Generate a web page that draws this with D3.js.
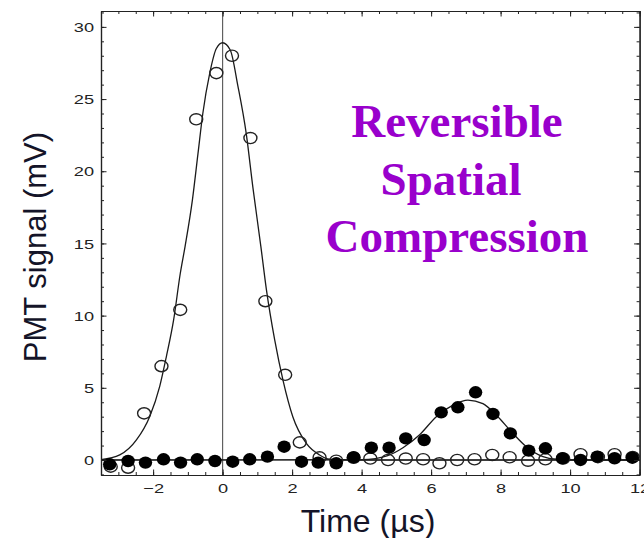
<!DOCTYPE html>
<html><head><meta charset="utf-8">
<script src="https://cdn.jsdelivr.net/npm/d3@7"></script>
<style>body{margin:0;background:#fff}svg{display:block}</style>
</head><body>
<svg id="c" width="644" height="538"></svg>
<script>
// ---- data ----
const openX = [-3.22,-2.72,-2.26,-1.76,-1.22,-0.76,-0.18,0.27,0.80,1.23,1.80,2.22,2.79,3.27,3.77,4.25,4.76,5.27,5.77,6.24,6.75,7.25,7.76,8.26,8.79,9.29,9.80,10.30,10.80,11.28,11.80];
const openY = [-0.46,-0.53,3.23,6.5,10.4,23.6,26.8,28.0,22.3,11.0,5.9,1.22,0.18,-0.05,0.15,0.1,0.0,0.1,0.05,-0.23,0.0,0.05,0.35,0.19,-0.05,0.05,0.1,0.4,0.2,0.4,0.2];
const filledX = [-3.25,-2.72,-2.22,-1.70,-1.21,-0.73,-0.22,0.29,0.78,1.29,1.77,2.27,2.75,3.27,3.77,4.28,4.79,5.27,5.80,6.29,6.77,7.28,7.78,8.28,8.81,9.29,9.78,10.30,10.78,11.28,11.79];
const filledY = [-0.3,-0.07,-0.18,0.05,-0.18,0.05,-0.07,-0.12,0.05,0.23,0.92,-0.12,-0.18,-0.23,0.19,0.85,0.85,1.5,1.38,3.3,3.65,4.69,3.19,1.84,0.65,0.81,0.12,0.0,0.23,0.12,0.16];
const fitOpenX = [-3.5,-2.96,-2.48,-2.10,-1.81,-1.62,-1.41,-1.22,-1.08,-0.87,-0.71,-0.57,-0.37,-0.18,0.0,0.22,0.44,0.68,0.87,1.10,1.26,1.50,1.74,2.02,2.41,2.79,3.08,3.5,12];
const fitOpenY = [0.02,0.35,1.39,3.0,5.1,7.15,9.7,12.9,14.8,18.0,21.2,24.0,26.8,28.5,28.9,28.4,25.9,22.6,18.9,14.8,11.8,8.3,5.5,3.0,1.15,0.35,0.05,0.0,0.0];
const fitFilledX = [-3.5,4.0,4.4,4.75,5.19,5.67,6.15,6.63,7.06,7.49,7.88,8.31,8.74,9.22,9.6,10.2,12];
const fitFilledY = [0.0,0.02,0.1,0.3,0.85,1.75,3.0,3.8,4.15,3.9,3.1,1.96,0.92,0.23,0.05,0.0,0.0];
const xMajorTicks = [-2,0,2,4,6,8,10,12];
const yMajorTicks = [0,5,10,15,20,25,30];
const titleLines = ["Reversible","Spatial\u00a0","Compression"];
const xLabel = "Time (\u00b5s)";
const yLabel = "PMT signal (mV)";

// ---- layout ----
const L=101, R=639.6, T=11, B=475;
const svg = d3.select("#c");
const x = d3.scaleLinear().domain([-3.5,12]).range([L,R]);
const y = d3.scaleLinear().domain([-1.04,31.1]).range([B,T]);
const xMinor = d3.range(-3.5,12.001,0.5);
const yMinor = d3.range(-1,31.001,1);

// zero axes
svg.append("line").attr("x1",x(0)).attr("x2",x(0)).attr("y1",T).attr("y2",B)
  .attr("stroke","#555").attr("stroke-width",1.1);
svg.append("line").attr("x1",L).attr("x2",R).attr("y1",y(0)).attr("y2",y(0))
  .attr("stroke","#555").attr("stroke-width",1.1);

// fit curves
const line = d3.line().x(d=>x(d[0])).y(d=>y(d[1])).curve(d3.curveMonotoneX);
svg.append("path").datum(fitOpenX.map((v,i)=>[v,fitOpenY[i]])).attr("d",line)
  .attr("fill","none").attr("stroke","#1a1a1a").attr("stroke-width",1.3);
svg.append("path").datum(fitFilledX.map((v,i)=>[v,fitFilledY[i]])).attr("d",line)
  .attr("fill","none").attr("stroke","#1a1a1a").attr("stroke-width",1.3);

// points
svg.append("g").selectAll("ellipse").data(openX.map((v,i)=>[v,openY[i]])).join("ellipse")
  .attr("cx",d=>x(d[0])).attr("cy",d=>y(d[1])).attr("rx",6.5).attr("ry",5.6)
  .attr("fill","none").attr("stroke","#222").attr("stroke-width",1.4);
svg.append("g").selectAll("ellipse").data(filledX.map((v,i)=>[v,filledY[i]])).join("ellipse")
  .attr("cx",d=>x(d[0])).attr("cy",d=>y(d[1])).attr("rx",6.7).attr("ry",6.2)
  .attr("fill","#000");

// frame axes
function styleAxis(g){
  g.select(".domain").attr("stroke","#222").attr("stroke-width",1.2);
  g.selectAll(".tick line").attr("stroke","#222").attr("stroke-width",1);
}
const gBottom = svg.append("g").attr("transform",`translate(0,${B})`)
  .call(d3.axisBottom(x).tickValues(xMinor).tickSize(-3).tickFormat("").tickSizeOuter(0));
styleAxis(gBottom);
const gBottomMaj = svg.append("g").attr("transform",`translate(0,${B})`)
  .call(d3.axisBottom(x).tickValues(xMajorTicks).tickSize(-5.5).tickPadding(8).tickSizeOuter(0)
    .tickFormat(d=>d<0?"\u2212"+Math.abs(d):d));
styleAxis(gBottomMaj);
const gTop = svg.append("g").attr("transform",`translate(0,${T})`)
  .call(d3.axisTop(x).tickValues(xMinor).tickSize(-3).tickFormat("").tickSizeOuter(0));
styleAxis(gTop);
svg.append("g").attr("transform",`translate(0,${T})`)
  .call(d3.axisTop(x).tickValues(xMajorTicks).tickSize(-5.5).tickFormat("").tickSizeOuter(0)).call(styleAxis);
const gLeft = svg.append("g").attr("transform",`translate(${L},0)`)
  .call(d3.axisLeft(y).tickValues(yMinor).tickSize(-3).tickFormat("").tickSizeOuter(0));
styleAxis(gLeft);
const gLeftMaj = svg.append("g").attr("transform",`translate(${L},0)`)
  .call(d3.axisLeft(y).tickValues(yMajorTicks).tickSize(-5.5).tickPadding(7).tickSizeOuter(0));
styleAxis(gLeftMaj);
const gRight = svg.append("g").attr("transform",`translate(${R},0)`)
  .call(d3.axisRight(y).tickValues(yMinor).tickSize(-3).tickFormat("").tickSizeOuter(0));
styleAxis(gRight);
svg.append("g").attr("transform",`translate(${R},0)`)
  .call(d3.axisRight(y).tickValues(yMajorTicks).tickSize(-5.5).tickFormat("").tickSizeOuter(0)).call(styleAxis);

// tick label styling (wide digits)
gBottomMaj.selectAll("text").each(function(){
  const t=d3.select(this); const yy=+t.attr("y");
  t.attr("y",null).attr("dy",null)
   .attr("transform",`translate(0,${yy+9.5}) scale(1.4,1)`);
}).attr("font-family","'Liberation Sans',Arial,sans-serif").attr("font-size",13).attr("fill","#222");
gLeftMaj.selectAll("text").each(function(){
  const t=d3.select(this); const xx=+t.attr("x");
  t.attr("x",null).attr("dy",null)
   .attr("transform",`translate(${xx},4.7) scale(1.4,1)`);
}).attr("font-family","'Liberation Sans',Arial,sans-serif").attr("font-size",13).attr("fill","#222");

// axis titles
svg.append("text").attr("x",368).attr("y",531.5).attr("text-anchor","middle")
  .attr("font-family","'Liberation Sans',Arial,sans-serif").attr("font-size",32).attr("fill","#141428")
  .text(xLabel);
svg.append("text").attr("transform","translate(45.5,247) rotate(-90)").attr("text-anchor","middle")
  .attr("font-family","'Liberation Sans',Arial,sans-serif").attr("font-size",31).attr("fill","#141428")
  .text(yLabel);

// annotation
svg.append("g").selectAll("text").data(titleLines).join("text")
  .attr("x",457).attr("y",(d,i)=>137+i*57.5).attr("text-anchor","middle")
  .attr("font-family","'Liberation Serif','Times New Roman',serif").attr("font-weight","bold")
  .attr("font-size",47).attr("fill","#9900cc").text(d=>d);
</script>
</body></html>
